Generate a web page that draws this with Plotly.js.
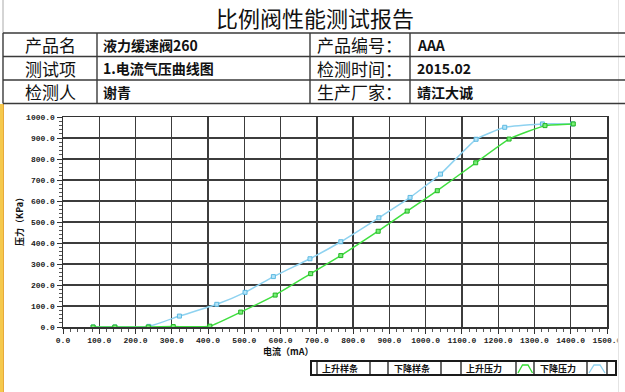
<!DOCTYPE html>
<html><head><meta charset="utf-8">
<script src="https://cdn.plot.ly/plotly-3.0.1.min.js"></script>
<style>html,body{margin:0;padding:0;background:#fff;overflow:hidden}#chart{width:625px;height:392px}</style>
</head><body><div id="chart"></div>
<script>
// ---- data ----
const reportTitle = "比例阀性能测试报告";
const headerLabels = ["产品名", "测试项", "检测人"];
const headerValues = ["液力缓速阀260", "1.电流气压曲线图", "谢青"];
const headerLabels2 = ["产品编号：", "检测时间：", "生产厂家："];
const headerValues2 = ["AAA", "2015.02", "靖江大诚"];
const legendLabels = ["上升样条", "下降样条", "上升压力", "下降压力"];
const xTitle = "电流（mA）";
const yTitle = "压力（KPa）";

const currentUp = [83, 143, 235, 304, 405, 490, 585, 683, 766, 869, 949, 1032, 1138, 1230, 1329, 1407];
const pressureUp = [0, 0, 0, 2, 4, 71, 152, 254, 340, 456, 552, 649, 782, 895, 959, 967];
const currentDown = [83, 143, 237, 321, 424, 502, 580, 681, 766, 871, 957, 1041, 1139, 1218, 1322, 1405];
const pressureDown = [0, 0, 3, 52, 108, 165, 240, 325, 406, 520, 617, 728, 894, 951, 967, 967];

// ---- geometry helpers (pixel -> paper) ----
const W = 625, H = 392, L = 63, R = 18, T = 117, B = 65;
const PW = W - L - R, PH = H - T - B;
function px(x) { return (x - L) / PW; }
function py(y) { return (H - B - y) / PH; }

const shapes = [];
const annotations = [];
function line(x0, y0, x1, y1, color, width) {
  shapes.push({type: 'line', xref: 'paper', yref: 'paper', x0: px(x0), y0: py(y0), x1: px(x1), y1: py(y1),
    line: {color: color, width: width}});
}
function rect(x0, y0, x1, y1, fill, lcolor, lwidth) {
  shapes.push({type: 'rect', xref: 'paper', yref: 'paper', x0: px(x0), y0: py(y0), x1: px(x1), y1: py(y1),
    fillcolor: fill, line: {color: lcolor || 'rgba(0,0,0,0)', width: lwidth || 0}});
}
function path(pts, color, width) {
  let d = pts.map((p, i) => (i ? 'L' : 'M') + px(p[0]) + ',' + py(p[1])).join(' ');
  shapes.push({type: 'path', xref: 'paper', yref: 'paper', path: d, line: {color: color, width: width}});
}
function ann(text, x, y, size, opts) {
  opts = opts || {};
  annotations.push({text: text, xref: 'paper', yref: 'paper', x: px(x), y: py(y), showarrow: false,
    xanchor: opts.xanchor || 'center', yanchor: 'middle', textangle: opts.angle || 0,
    font: {family: opts.family || '"Noto Sans CJK SC", sans-serif', size: size, color: opts.color || '#111',
      weight: opts.weight || 'normal'}});
}

// white clip at right edge (chart image is cut), and page decorations
rect(617.5, 104, 626, 393, '#ffffff');
line(618.5, 0, 618.5, 392, '#e4e4e4', 1);
rect(-1, 104, 3.5, 393, '#f5c94c');
line(3.5, 104, 3.5, 392, '#e8a93a', 1);
line(3, 0, 3, 33, '#aaaaaa', 1);

// header table
const rowY = [33, 56.5, 80, 103.5];
rowY.forEach(y => line(3, y, 626, y, '#3a3a3a', 1.6));
[3, 97, 310, 410].forEach(x => line(x, 33, x, 103.5, '#3a3a3a', 1.4));
ann(reportTitle, 315, 17, 22);
for (let i = 0; i < 3; i++) {
  const cy = (rowY[i] + rowY[i + 1]) / 2;
  ann(headerLabels[i], 50, cy, 17);
  ann(headerValues[i], 101, cy, 14, {xanchor: 'left', weight: 'bold'});
  ann(headerLabels2[i], 315, cy, 17, {xanchor: 'left'});
  ann(headerValues2[i], 415, cy, 14, {xanchor: 'left', weight: 'bold'});
}

// axis titles
ann(yTitle, 19, 220, 9, {angle: -90, weight: 'bold'});
ann(xTitle, 288, 351, 9, {weight: 'bold'});

// legend box
const lgT = 361, lgB = 375;
rect(311, lgT, 616, lgB, 'rgba(0,0,0,0)', '#1a1a1a', 2);
[317, 370, 388, 441, 461, 516, 534, 587, 607].forEach(x => line(x, lgT, x, lgB, '#1a1a1a', 1.3));
const lgTextX = [320, 392, 464, 538];
legendLabels.forEach((t, i) => ann(t, lgTextX[i], (lgT + lgB) / 2, 9, {xanchor: 'left', weight: 'bold'}));
path([[518, 373], [522.5, 365], [528, 365], [532.5, 373]], '#33dd33', 1.3);
path([[589, 373], [594, 365], [600, 365], [605, 373]], '#8ed2f0', 1.3);

const axisCommon = {
  showgrid: true, gridcolor: '#3c3c3c', gridwidth: 1.3,
  showline: true, linecolor: '#333', linewidth: 1.5, mirror: true,
  zeroline: false, ticks: 'outside', ticklen: 5, tickwidth: 1, tickcolor: '#333',
  tickformat: '.1f', fixedrange: true,
  tickfont: {family: '"Liberation Mono", monospace', size: 8, color: '#222', weight: 'bold'},
  minor: {dtick: 20, ticks: 'outside', ticklen: 3, tickwidth: 1, tickcolor: '#555', showgrid: false}
};

const traces = [
  {x: currentDown, y: pressureDown, type: 'scatter', mode: 'lines+markers', name: legendLabels[3],
    line: {color: '#8ed2f0', width: 1.5, shape: 'spline', smoothing: 0.4},
    marker: {symbol: 'square', size: 4, color: '#b5e4f7', line: {color: '#5cb9e2', width: 1}}},
  {x: currentUp, y: pressureUp, type: 'scatter', mode: 'lines+markers', name: legendLabels[2],
    line: {color: '#3fdf3f', width: 1.5, shape: 'spline', smoothing: 0.4},
    marker: {symbol: 'square', size: 4, color: '#7af07a', line: {color: '#22b522', width: 1}}}
];

const layout = {
  width: W, height: H, margin: {l: L, r: R, t: T, b: B, pad: 0},
  paper_bgcolor: '#ffffff', plot_bgcolor: '#ffffff', showlegend: false,
  xaxis: Object.assign({}, axisCommon, {range: [0, 1500], dtick: 100, tick0: 0}),
  yaxis: Object.assign({}, axisCommon, {range: [0, 1000], dtick: 100, tick0: 0}),
  shapes: shapes, annotations: annotations
};

Plotly.newPlot('chart', traces, layout, {staticPlot: true, displayModeBar: false});
</script></body></html>
